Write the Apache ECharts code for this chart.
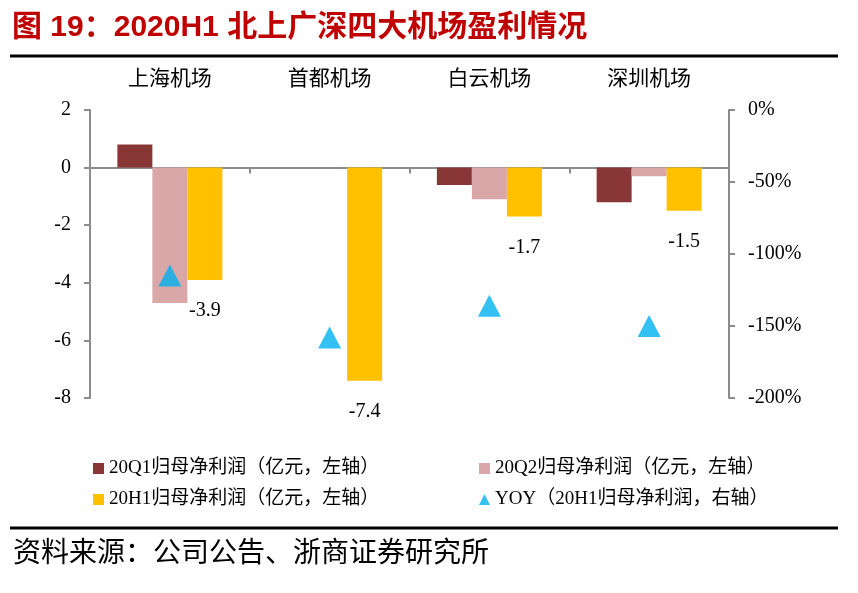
<!DOCTYPE html>
<html>
<head>
<meta charset="utf-8">
<script src="https://cdn.jsdelivr.net/npm/echarts@6/dist/echarts.min.js"></script>
<style>
  html, body { margin: 0; padding: 0; background: #fff; }
  #chart_id { width: 858px; height: 593px; }
</style>
</head>
<body>
<div id="chart_id"></div>
<script>
// 数据
const categories = ['上海机场', '首都机场', '白云机场', '深圳机场'];
const q1Profit = [0.8, null, -0.6, -1.2];
const q2Profit = [-4.7, null, -1.1, -0.3];
const h1Profit = [-3.9, -7.4, -1.7, -1.5];
const yoyH1 = [-115, -158, -136, -150];
const seriesNames = [
  '20Q1归母净利润（亿元，左轴）',
  '20Q2归母净利润（亿元，左轴）',
  '20H1归母净利润（亿元，左轴）',
  'YOY（20H1归母净利润，右轴）',
];

const serif = '"Liberation Serif", "Noto Sans CJK SC", serif';
const axisGray = '#8c8c8c';

const myChart = echarts.init(document.getElementById('chart_id'));
const option = {
  animation: false,
  backgroundColor: '#fff',
  textStyle: { fontFamily: serif, color: '#000' },
  grid: {
    left: 90,
    right: 129,
    top: 110,
    bottom: 195,
  },
  legend: {
    left: 93,
    top: 458,
    width: 790,
    padding: 0,
    itemWidth: 11,
    itemHeight: 11,
    itemGap: 10,
    textStyle: {
      fontFamily: serif,
      fontSize: 19,
      color: '#000',
      width: 360,
      lineHeight: 21,
    },
    data: [
      { name: seriesNames[0], icon: 'rect' },
      { name: seriesNames[1], icon: 'rect' },
      { name: seriesNames[2], icon: 'rect' },
      { name: seriesNames[3], icon: 'triangle' },
    ],
  },
  xAxis: [
    {
      type: 'category',
      data: categories,
      position: 'bottom',
      axisLine: { onZero: true, lineStyle: { color: axisGray, width: 2 } },
      axisTick: { show: true, length: 6, lineStyle: { color: axisGray, width: 2 } },
      axisLabel: { show: false },
    },
    {
      type: 'category',
      data: categories,
      position: 'top',
      axisLine: { show: false },
      axisTick: { show: false },
      axisLabel: { fontSize: 21, margin: 20, color: '#000', fontFamily: serif },
    },
  ],
  yAxis: [
    {
      type: 'value',
      min: -8,
      max: 2,
      interval: 2,
      axisLine: { show: true, lineStyle: { color: axisGray, width: 2 } },
      axisTick: { show: true, length: 6, lineStyle: { color: axisGray, width: 2 } },
      axisLabel: { fontSize: 20, margin: 19, color: '#000', fontFamily: serif },
      splitLine: { show: false },
    },
    {
      type: 'value',
      min: -200,
      max: 0,
      interval: 50,
      position: 'right',
      axisLine: { show: true, lineStyle: { color: axisGray, width: 2 } },
      axisTick: { show: true, length: 6, lineStyle: { color: axisGray, width: 2 } },
      axisLabel: { fontSize: 20, margin: 19, color: '#000', fontFamily: serif, formatter: '{value}%' },
      splitLine: { show: false },
    },
  ],
  series: [
    {
      name: seriesNames[0],
      type: 'bar',
      data: q1Profit,
      barWidth: 35,
      barGap: '0%',
      itemStyle: { color: '#893736' },
    },
    {
      name: seriesNames[1],
      type: 'bar',
      data: q2Profit,
      barWidth: 35,
      barGap: '0%',
      itemStyle: { color: '#d9a7a7' },
    },
    {
      name: seriesNames[2],
      type: 'bar',
      data: h1Profit,
      barWidth: 35,
      barGap: '0%',
      itemStyle: { color: '#ffc000' },
      label: {
        show: true,
        position: 'bottom',
        distance: 21,
        fontSize: 20,
        fontFamily: serif,
        color: '#000',
      },
    },
    {
      name: seriesNames[3],
      type: 'scatter',
      yAxisIndex: 1,
      data: yoyH1,
      symbol: 'triangle',
      symbolSize: [23, 22],
      itemStyle: { color: '#00b0f0' },
    },
  ],
  graphic: [
    {
      type: 'text',
      left: 12,
      top: 13,
      style: {
        text: '图 19：2020H1 北上广深四大机场盈利情况',
        fontSize: 30,
        fontWeight: 'bold',
        fontFamily: '"Liberation Sans", "Noto Sans CJK SC", sans-serif',
        fill: '#c00000',
      },
    },
    {
      type: 'line',
      shape: { x1: 10, y1: 56, x2: 838, y2: 56 },
      style: { stroke: '#000', lineWidth: 3 },
    },
    {
      type: 'line',
      shape: { x1: 10, y1: 528, x2: 838, y2: 528 },
      style: { stroke: '#000', lineWidth: 3 },
    },
    {
      type: 'text',
      left: 13,
      top: 537,
      style: {
        text: '资料来源：公司公告、浙商证券研究所',
        fontSize: 28,
        fontFamily: '"Noto Sans CJK SC", sans-serif',
        fill: '#000',
      },
    },
  ],
};
myChart.setOption(option);
window.onresize = myChart.resize;
</script>
</body>
</html>
